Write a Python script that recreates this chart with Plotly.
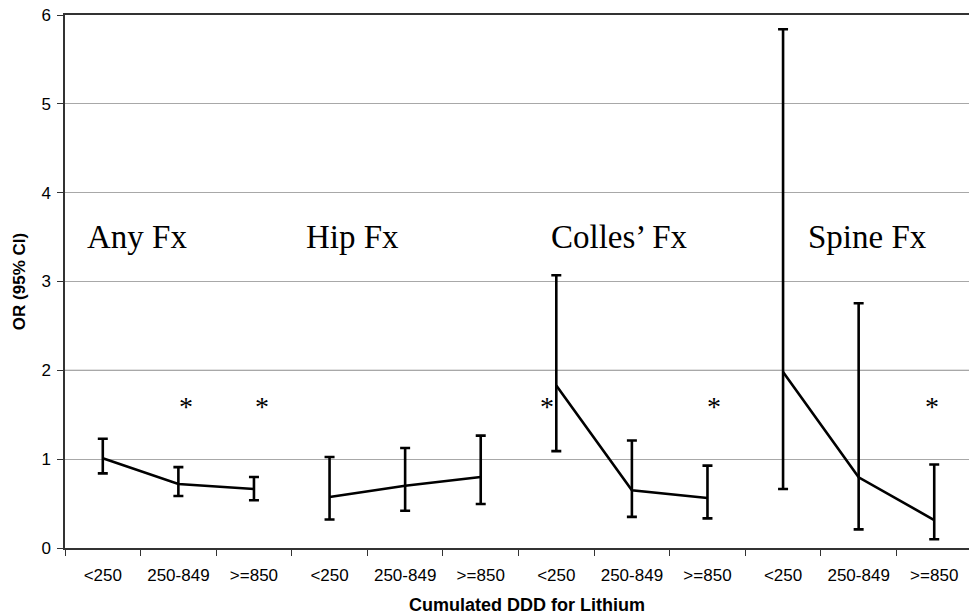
import plotly.graph_objects as go

# ---- data ----
dose_labels = ["<250", "250-849", ">=850"]
groups = ["Any Fx", "Hip Fx", "Colles\u2019 Fx", "Spine Fx"]

or_any = [1.01, 0.72, 0.665]
or_hip = [0.574, 0.70, 0.80]
or_colles = [1.83, 0.65, 0.563]
or_spine = [1.98, 0.796, 0.315]

ci_upper_any = [1.23, 0.91, 0.80]
ci_upper_hip = [1.025, 1.126, 1.265]
ci_upper_colles = [3.07, 1.21, 0.927]
ci_upper_spine = [5.84, 2.755, 0.94]

ci_lower_any = [0.84, 0.585, 0.537]
ci_lower_hip = [0.32, 0.42, 0.495]
ci_lower_colles = [1.09, 0.35, 0.334]
ci_lower_spine = [0.664, 0.21, 0.098]

# significant estimates (group index, dose index)
significant = [(0, 1), (0, 2), (2, 0), (2, 2), (3, 2)]

y_ticks = [0, 1, 2, 3, 4, 5, 6]

# ---- layout/style helpers ----
label_x = [-0.23, 2.66, 5.9, 9.3]        # left edge of group labels (axis units)
label_y = 3.5
star_y = 1.62
star_shift = [8, 8, -9, 7, -2]           # pixel offsets of asterisks

or_values = [or_any, or_hip, or_colles, or_spine]
uppers = [ci_upper_any, ci_upper_hip, ci_upper_colles, ci_upper_spine]
lowers = [ci_lower_any, ci_lower_hip, ci_lower_colles, ci_lower_spine]

n_dose = len(dose_labels)
fig = go.Figure()
for g, name in enumerate(groups):
    xs = [g * n_dose + i for i in range(n_dose)]
    ys = or_values[g]
    fig.add_trace(go.Scatter(
        x=xs, y=ys, mode="lines", name=name, showlegend=False,
        line=dict(color="black", width=2.6),
        error_y=dict(type="data", symmetric=False,
                     array=[u - v for u, v in zip(uppers[g], ys)],
                     arrayminus=[v - l for v, l in zip(ys, lowers[g])],
                     color="black", thickness=2.6, width=5),
    ))

serif = "Times New Roman, Liberation Serif, serif"
sans = "Arial, Liberation Sans, sans-serif"

for g, name in enumerate(groups):
    fig.add_annotation(x=label_x[g], y=label_y, text=name, showarrow=False,
                       xanchor="left", yanchor="middle",
                       font=dict(family=serif, size=33, color="black"))

for k, (g, i) in enumerate(significant):
    fig.add_annotation(x=g * n_dose + i, y=star_y, text="*", showarrow=False,
                       xshift=star_shift[k], yshift=-2,
                       xanchor="center", yanchor="middle",
                       font=dict(family=serif, size=28, color="black"))

# x-axis title (placed as annotation to match its off-centre position)
fig.add_annotation(xref="paper", yref="paper", x=0.511, y=0, yshift=-57,
                   xanchor="center", yanchor="middle", showarrow=False,
                   text="<b>Cumulated DDD for Lithium</b>",
                   font=dict(family=sans, size=18, color="black"))

fig.add_shape(type="line", xref="paper", x0=0, x1=1, yref="y", y0=2, y1=2,
              line=dict(color="#555555", width=1), layer="below")

n_cat = n_dose * len(groups)
fig.update_layout(
    width=969, height=615,
    margin=dict(l=65, r=0, t=15, b=67),
    plot_bgcolor="white", paper_bgcolor="white",
    font=dict(family=sans, color="black", size=17),
    xaxis=dict(
        range=[-0.5, n_cat - 0.54],
        automargin=False,
        tickmode="array",
        tickvals=list(range(n_cat)),
        ticktext=dose_labels * len(groups),
        ticks="", showgrid=False, zeroline=False,
        showline=True, mirror=True, linecolor="#333333", linewidth=1.5,
        ticklabelstandoff=11, ticklabeloverflow="allow",
        tickfont=dict(family=sans, size=17, color="black"),
        minor=dict(tickmode="array", tickvals=[k - 0.5 for k in range(n_cat + 1)],
                   ticks="outside", ticklen=6, tickcolor="#333333", tickwidth=1,
                   showgrid=False),
    ),
    yaxis=dict(
        range=[0, 6], tickmode="array", tickvals=y_ticks,
        automargin=False,
        ticks="outside", ticklen=6, tickcolor="#333333",
        showgrid=True, gridcolor="#a8a8a8", gridwidth=1,
        zeroline=False, showline=True, linecolor="#333333", linewidth=1.5,
        ticklabelstandoff=3, ticklabeloverflow="allow",
        tickfont=dict(family=sans, size=17, color="black"),
        title=dict(text="<b>OR (95% CI)</b>", standoff=11,
                   font=dict(family=sans, size=17, color="black")),
    ),
)

# remove the default page margin so the figure fills the window exactly
fig.write_html("out.html",
               config={"displayModeBar": False},
               post_script="document.body.style.margin='0';document.body.style.overflow='hidden';")
